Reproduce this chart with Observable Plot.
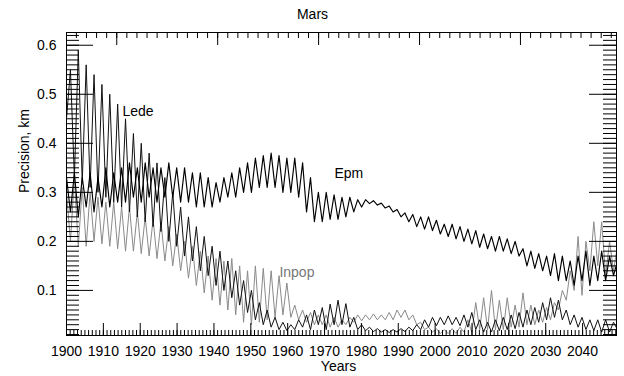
<!DOCTYPE html>
<html><head><meta charset="utf-8">
<script src="https://cdn.jsdelivr.net/npm/d3@7"></script>
<script src="https://cdn.jsdelivr.net/npm/@observablehq/plot@0.6"></script>
<style>
body{margin:0;background:#fff}
#chart svg{display:block}
</style>
</head><body><div id="chart"></div>
<script>
// ---- data ----
const years = [
1900.00,1901.07,1902.14,1903.20,1904.27,1905.34,1906.41,1907.47,1908.54,1909.61,
1910.68,1911.74,1912.81,1913.88,1914.95,1916.01,1917.08,1918.15,1919.22,1920.28,
1921.35,1922.42,1923.49,1924.55,1925.62,1926.69,1927.76,1928.82,1929.89,1930.96,
1932.03,1933.09,1934.16,1935.23,1936.30,1937.36,1938.43,1939.50,1940.57,1941.63,
1942.70,1943.77,1944.84,1945.90,1946.97,1948.04,1949.11,1950.17,1951.24,1952.31,
1953.38,1954.44,1955.51,1956.58,1957.65,1958.71,1959.78,1960.85,1961.92,1962.98,
1964.05,1965.12,1966.19,1967.25,1968.32,1969.39,1970.46,1971.52,1972.59,1973.66,
1974.73,1975.79,1976.86,1977.93,1979.00,1980.06,1981.13,1982.20,1983.27,1984.33,
1985.40,1986.47,1987.54,1988.60,1989.67,1990.74,1991.81,1992.87,1993.94,1995.01,
1996.08,1997.14,1998.21,1999.28,2000.35,2001.41,2002.48,2003.55,2004.62,2005.68,
2006.75,2007.82,2008.89,2009.95,2011.02,2012.09,2013.16,2014.22,2015.29,2016.36,
2017.43,2018.49,2019.56,2020.63,2021.70,2022.76,2023.83,2024.90,2025.97,2027.03,
2028.10,2029.17,2030.24,2031.30,2032.37,2033.44,2034.51,2035.57,2036.64,2037.71,
2038.78,2039.84,2040.91,2041.98,2043.05,2044.11,2045.18,2046.25,2047.32,2048.39,
2049.46];

const epm = [
0.33,0.26,0.34,0.25,0.33,0.27,0.34,0.26,0.33,0.27,
0.35,0.27,0.34,0.28,0.35,0.28,0.36,0.29,0.35,0.28,
0.36,0.29,0.35,0.28,0.35,0.29,0.36,0.29,0.35,0.28,
0.35,0.28,0.34,0.27,0.34,0.27,0.33,0.27,0.32,0.28,
0.33,0.29,0.34,0.29,0.35,0.30,0.36,0.30,0.37,0.31,
0.375,0.31,0.38,0.31,0.375,0.30,0.37,0.30,0.37,0.29,
0.36,0.26,0.33,0.24,0.30,0.24,0.30,0.245,0.295,0.245,
0.29,0.25,0.29,0.26,0.285,0.27,0.285,0.277,0.283,0.274,
0.278,0.268,0.272,0.26,0.265,0.25,0.258,0.24,0.255,0.23,
0.25,0.225,0.25,0.222,0.243,0.215,0.235,0.21,0.235,0.205,
0.23,0.20,0.225,0.195,0.222,0.188,0.215,0.185,0.21,0.18,
0.21,0.18,0.205,0.175,0.20,0.17,0.185,0.15,0.18,0.145,
0.175,0.14,0.17,0.13,0.175,0.12,0.17,0.12,0.16,0.11,
0.17,0.12,0.18,0.11,0.17,0.12,0.18,0.12,0.17,0.13,
0.16];

const lede = [
0.45,0.55,0.33,0.59,0.32,0.56,0.31,0.54,0.30,0.52,
0.29,0.50,0.28,0.48,0.27,0.45,0.26,0.42,0.25,0.40,
0.24,0.38,0.23,0.36,0.22,0.33,0.20,0.30,0.19,0.27,
0.17,0.25,0.16,0.23,0.14,0.21,0.13,0.19,0.11,0.18,
0.10,0.16,0.085,0.14,0.07,0.12,0.055,0.10,0.04,0.075,
0.03,0.06,0.025,0.045,0.02,0.035,0.018,0.03,0.02,0.04,
0.025,0.05,0.02,0.06,0.03,0.065,0.02,0.072,0.03,0.08,
0.03,0.073,0.025,0.045,0.02,0.03,0.018,0.025,0.016,0.022,
0.015,0.02,0.014,0.02,0.015,0.022,0.016,0.025,0.018,0.03,
0.02,0.04,0.025,0.045,0.028,0.045,0.03,0.048,0.03,0.045,
0.028,0.05,0.025,0.055,0.02,0.04,0.015,0.035,0.015,0.04,
0.018,0.045,0.02,0.05,0.022,0.055,0.025,0.06,0.03,0.065,
0.035,0.075,0.04,0.085,0.045,0.08,0.04,0.06,0.03,0.05,
0.025,0.045,0.02,0.04,0.018,0.04,0.015,0.04,0.015,0.035,
0.02];

const inpop = [
0.30,0.20,0.33,0.19,0.31,0.19,0.30,0.20,0.29,0.195,
0.28,0.19,0.28,0.185,0.27,0.18,0.27,0.18,0.26,0.175,
0.25,0.17,0.245,0.165,0.24,0.16,0.23,0.15,0.215,0.14,
0.20,0.125,0.19,0.11,0.18,0.095,0.17,0.08,0.165,0.07,
0.16,0.06,0.165,0.05,0.15,0.035,0.14,0.03,0.15,0.035,
0.145,0.04,0.14,0.045,0.13,0.05,0.115,0.045,0.07,0.04,
0.06,0.035,0.055,0.03,0.05,0.03,0.05,0.025,0.045,0.025,
0.04,0.03,0.045,0.035,0.05,0.038,0.05,0.04,0.052,0.04,
0.05,0.04,0.055,0.04,0.06,0.045,0.06,0.04,0.05,0.03,
0.035,0.02,0.025,0.015,0.022,0.012,0.02,0.012,0.022,0.012,
0.025,0.015,0.04,0.015,0.075,0.02,0.085,0.02,0.10,0.02,
0.08,0.02,0.085,0.025,0.07,0.025,0.095,0.03,0.07,0.03,
0.06,0.035,0.065,0.04,0.075,0.06,0.10,0.08,0.14,0.10,
0.21,0.09,0.20,0.14,0.24,0.15,0.24,0.13,0.20,0.14,
0.19];

const seriesNames = ["Inpop", "Lede", "Epm"];
const xTickLabels = [1900,1910,1920,1930,1940,1950,1960,1970,1980,1990,2000,2010,2020,2030,2040];
const yTickLabels = [0.1,0.2,0.3,0.4,0.5,0.6];
// top axis: Julian dates, major every 10000 days
const topMajorJD = [2420000,2430000,2440000,2450000,2460000];
const labelText = ["Lede","Epm","Inpop"];
const labelYear = [1919.4,1976.6,1962.5];
const labelValue = [0.464,0.339,0.136];

// ---- layout ----
const W = 624, H = 376, mL = 66, mR = 8, mT = 32, mB = 41;
const fw = W - mL - mR, fh = H - mT - mB;

const rows = [];
const cols = {Epm: epm, Lede: lede, Inpop: inpop};
for (const s of seriesNames) years.forEach((y, i) => rows.push({series: s, year: y, value: cols[s][i]}));

const jdToYear = jd => 1900 + (jd - 2415020.5) / 365.25;
const topMajor = topMajorJD.map(jdToYear);
const topMinor = d3.range(2416000, 2470000, 1000).map(jdToYear).filter(y => y >= 1900 && y <= 2049.2);
const xMinor = d3.range(1900, 2050);
const yMinor = d3.range(1, 63).map(i => i / 100);

const labels = labelText.map((t, i) => ({text: t, year: labelYear[i], value: labelValue[i]}));

const chart = Plot.plot({
  width: W, height: H,
  marginLeft: mL, marginRight: mR, marginTop: mT, marginBottom: mB,
  style: {fontFamily: "'Liberation Sans', Arial, sans-serif", fontSize: "14px", background: "#fff", color: "#000"},
  x: {domain: [1900, 2049.2]},
  y: {domain: [0.008, 0.626]},
  marks: [
    Plot.line(rows.filter(d => d.series === "Inpop"), {x: "year", y: "value", stroke: "#8a8a8a", strokeWidth: 1, clip: true}),
    Plot.line(rows.filter(d => d.series === "Lede"), {x: "year", y: "value", stroke: "#111", strokeWidth: 1, clip: true}),
    Plot.line(rows.filter(d => d.series === "Epm"), {x: "year", y: "value", stroke: "#000", strokeWidth: 1.15, clip: true}),
    // inward ticks, left & right
    Plot.tickY(yMinor, {y: d => d, insetRight: fw - 13, stroke: "#000"}),
    Plot.tickY(yMinor, {y: d => d, insetLeft: fw - 13, stroke: "#000"}),
    Plot.tickY(yTickLabels, {y: d => d, insetRight: fw - 27, stroke: "#000"}),
    Plot.tickY(yTickLabels, {y: d => d, insetLeft: fw - 27, stroke: "#000"}),
    // bottom ticks
    Plot.tickX(xMinor, {x: d => d, insetTop: fh - 5, stroke: "#000"}),
    Plot.tickX(xTickLabels, {x: d => d, insetTop: fh - 12, stroke: "#000"}),
    // top ticks
    Plot.tickX(topMinor, {x: d => d, insetBottom: fh - 6, stroke: "#000"}),
    Plot.tickX(topMajor, {x: d => d, insetBottom: fh - 13, stroke: "#000"}),
    Plot.frame({stroke: "#000"}),
    Plot.axisX(xTickLabels, {tickSize: 0, tickPadding: 11, tickFormat: d => String(d), label: null, fontSize: 14}),
    Plot.axisY(yTickLabels, {tickSize: 0, tickPadding: 10, tickFormat: d => d.toFixed(1), label: null, fontSize: 14}),
    Plot.text(labels, {x: "year", y: "value", text: "text", fontSize: 14,
      fill: d => d.text === "Inpop" ? "#777" : "#000"}),
    Plot.text(["Years"], {frameAnchor: "bottom", lineAnchor: "middle", dy: 31, dx: -3, fontSize: 14}),
    Plot.text(["Precision, km"], {frameAnchor: "left", dx: -42, dy: 9, rotate: -90, fontSize: 14}),
    Plot.text(["Mars"], {frameAnchor: "top", lineAnchor: "middle", dx: -29, dy: -18, fontSize: 14})
  ]
});
document.getElementById("chart").appendChild(chart);
</script>
</body></html>
